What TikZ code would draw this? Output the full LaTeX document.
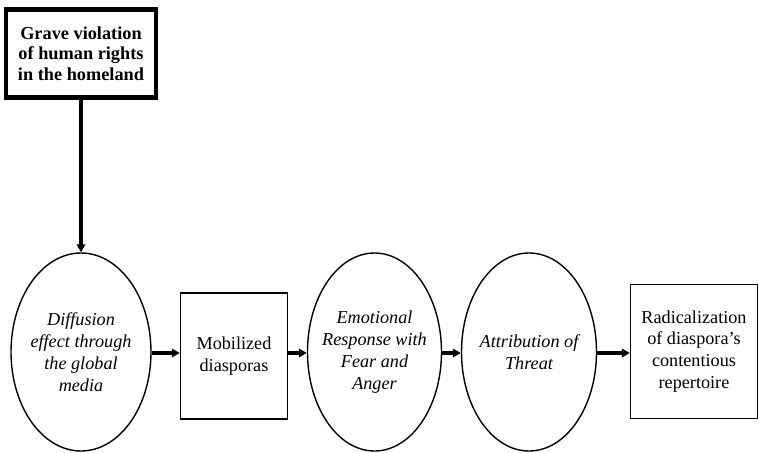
\documentclass[tikz,border=0pt]{standalone}
\usepackage{fontspec}
\setmainfont{Liberation Serif}
\newfontfamily\tnr{Liberation Serif}
\usetikzlibrary{shapes.geometric,arrows.meta}
\begin{document}
\begin{tikzpicture}[x=1pt,y=-1pt,
  every node/.style={font=\tnr\fontsize{18.2}{21.8}\selectfont, align=center, inner sep=0pt},
  oval/.style={draw, ellipse, inner sep=-20pt, line width=1.4pt, minimum width=140pt, minimum height=198pt},
  plainbox/.style={draw, rectangle, line width=1.4pt},
  topbox/.style={draw, rectangle, line width=4.5pt, minimum width=150pt, minimum height=88pt, font=\tnr\fontsize{18.3}{20.5}\selectfont\bfseries},
  arr/.style={line width=3.3pt, -{Triangle[length=8pt,width=8.5pt]}}
]
\useasboundingbox (0,0) rectangle (759,452);
\node[topbox] (top) at (81,53.5) {Grave violation\\of human rights\\in the homeland};
\node[oval] (e1) at (81,352) {\itshape Diffusion\\\itshape effect through\\\itshape the global\\\itshape media};
\node[plainbox, minimum width=107pt, minimum height=126pt] (r1) at (234,356) {Mobilized\\diasporas};
\node[oval, minimum width=134pt] (e2) at (374.5,352) {\itshape Emotional\\\itshape Response with\\\itshape Fear and\\\itshape Anger};
\node[oval, minimum width=135pt] (e3) at (529,352) {\itshape Attribution of\\\itshape Threat};
\node[plainbox, minimum width=127pt, minimum height=134pt] (r2) at (694,351.5) {Radicalization\\of diaspora’s\\contentious\\repertoire};
\draw[arr] (top.south) -- (e1.north);
\coordinate (y0) at (0,353);
\draw[arr] (e1.east |- y0) -- (r1.west |- y0);
\draw[arr] (r1.east |- y0) -- (e2.west |- y0);
\draw[arr] (e2.east |- y0) -- (e3.west |- y0);
\draw[arr] (e3.east |- y0) -- (r2.west |- y0);
\end{tikzpicture}
\end{document}
